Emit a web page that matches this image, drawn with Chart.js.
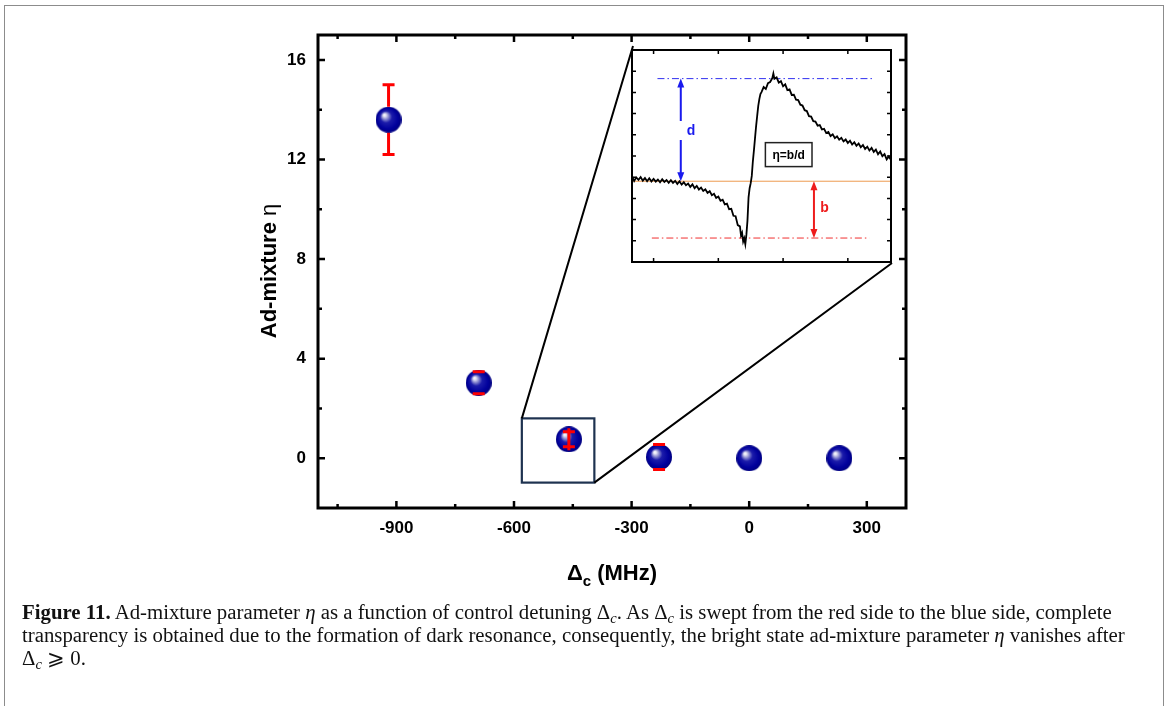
<!DOCTYPE html>
<html>
<head>
<meta charset="utf-8">
<script src="https://cdn.jsdelivr.net/npm/chart.js@4.4.0/dist/chart.umd.min.js"></script>
<style>
  html, body { margin: 0; padding: 0; background: #fff; }
  body { width: 1168px; height: 706px; position: relative; overflow: hidden; }
  #frame { position: absolute; left: 4px; top: 5px; width: 1158px; height: 720px; border: 1px solid #8c8c8c; }
  #main { position: absolute; left: 0; top: 0; }
  #insetWrap { position: absolute; left: 631px; top: 49px; width: 261px; height: 214px; background: #fff; }
  #caption { position: absolute; left: 22px; top: 600px; font-family: "Liberation Serif", serif; font-size: 20.8px; line-height: 23px; color: #111; white-space: nowrap; }
  #caption sub { font-size: 0.7em; line-height: 0; vertical-align: -0.25em; }
</style>
</head>
<body>
<div id="frame"></div>
<canvas id="main" width="1168" height="706"></canvas>
<div id="insetWrap"><canvas id="inset" width="261" height="214"></canvas></div>
<div id="caption">
  <div><b>Figure 11.</b> Ad-mixture parameter <i>η</i> as a function of control detuning Δ<sub><i>c</i></sub>. As Δ<sub><i>c</i></sub> is swept from the red side to the blue side, complete</div>
  <div>transparency is obtained due to the formation of dark resonance, consequently, the bright state ad-mixture parameter <i>η</i> vanishes after</div>
  <div>Δ<sub><i>c</i></sub> ⩾ 0.</div>
</div>

<script>
// ===== DATA =====
// main plot: control detuning (MHz) vs ad-mixture parameter eta
const detuning = [-920, -690, -460, -230, 0, 230];
const eta = [13.6, 3.03, 0.76, 0.05, 0.0, 0.0];
const etaErr = [1.4, 0.44, 0.3, 0.5, 0, 0];

const xMajorTicks = [-900, -600, -300, 0, 300];
const xMinorTicks = [-1050, -750, -450, -150, 150];
const yMajorTicks = [0, 4, 8, 12, 16];
const yMinorTicks = [2, 6, 10, 14];

// zoomed region marked on the main plot
const zoomBoxX = [-580, -395];
const zoomBoxY = [-0.98, 1.6];

// inset: transmission trace (arbitrary units)
const insetX = [-10,-9,-8,-7,-6,-5,-4,-3,-2,-1,0,1,2,3,4,5,6,7,8,9,10,11,12,13,14,15,16,17,18,19,20,21,22,23,24,25,26,27,28,29,30,31,32,33,34,35,36,37,38,39,40,
  40.5,41,41.5,42,42.5,43,43.5,44,44.5,45,45.5,46,46.5,47,47.5,48,48.5,49,49.5,50,51,52,53,54,55,55.5,
  56,57,58,59,60,61,62,63,64,65,66,67,68,69,70,71,72,73,74,75,76,77,78,79,80,81,82,83,84,85,86,87,88,89,90,91,92,93,94,95,96,97,98,99,100,101,102,103,104,105,106,107,108,109,110];
const insetY = [40.5,38.2,39.9,38.8,40.1,38.4,39.6,38.1,39.5,38.0,39.2,37.9,38.9,37.6,39.0,37.8,38.7,37.4,38.6,37.3,
  38.3,36.8,38.1,36.5,37.6,36.2,37.0,35.4,36.6,34.8,35.9,34.2,35.1,33.5,34.3,32.6,33.4,31.5,32.2,30.2,
  30.9,28.9,29.4,27.2,27.5,24.9,25.1,21.8,21.6,17.4,16.8,
  12.6,13.8,9.6,11.2,8.4,12.9,19.5,30.5,34.8,37.2,40.6,47.5,52.8,58.4,64.1,68.9,73.6,76.8,79.2,80.1,
  82.5,81.6,84.4,84.9,86.7,88.9,
  86.4,87.1,84.6,85.3,82.9,83.8,81.1,81.4,78.8,78.9,76.6,76.4,74.2,73.8,71.6,71.2,68.8,68.6,66.4,66.2,
  64.3,64.6,62.5,62.8,60.8,61.3,59.4,60.2,58.4,59.3,57.7,58.6,56.9,57.8,56.1,57.2,55.4,56.5,54.8,55.9,
  54.1,55.2,53.3,54.4,52.6,53.8,51.9,53.0,50.8,52.1,49.9,50.9,48.4,49.8,48.1];
const insetXTicks = [0, 30, 60, 90];
const insetYTicks = [10, 20, 30, 40, 50, 60, 70, 80, 90];

// inset reference levels
const peakLevel = 86.5;     // blue dash-dot
const offLevel = 38.1;      // orange baseline
const dipLevel = 11.3;      // red dash-dot
const peakLineX = [1.8, 102.3];
const dipLineX = [-0.8, 100];
const dArrowX = 12.6;
const bArrowX = 74.3;
const etaBoxX = [51.8, 73.4];
const etaBoxY = [45, 56.3];

// ===== LAYOUT =====
const INSET = { left: 631, top: 49, width: 261, height: 214 };
const SPHERE = 26;
const AXIS_FONT = '"Liberation Sans", Arial, sans-serif';

function makeSphere(d) {
  const c = document.createElement('canvas');
  c.width = d; c.height = d;
  const g = c.getContext('2d');
  const r = d / 2;
  const grad = g.createRadialGradient(r - 4.5, r - 5, 0, r, r, r);
  grad.addColorStop(0, '#ffffff');
  grad.addColorStop(0.1, '#e8e8f6');
  grad.addColorStop(0.26, '#8a8ad0');
  grad.addColorStop(0.45, '#1c1caa');
  grad.addColorStop(0.8, '#00009c');
  grad.addColorStop(1, '#000080');
  g.fillStyle = grad;
  g.beginPath();
  g.arc(r, r, r, 0, Math.PI * 2);
  g.fill();
  return c;
}

// inward ticks on all four sides plus the frame
function drawFrame(ctx, a, x, y, spec) {
  ctx.save();
  ctx.strokeStyle = '#000';
  ctx.lineWidth = spec.tickWidth;
  ctx.beginPath();
  const xt = (vals, len) => vals.forEach(v => {
    const p = x.getPixelForValue(v);
    ctx.moveTo(p, a.bottom); ctx.lineTo(p, a.bottom - len);
    ctx.moveTo(p, a.top); ctx.lineTo(p, a.top + len);
  });
  const yt = (vals, len) => vals.forEach(v => {
    const p = y.getPixelForValue(v);
    ctx.moveTo(a.left, p); ctx.lineTo(a.left + len, p);
    ctx.moveTo(a.right, p); ctx.lineTo(a.right - len, p);
  });
  xt(spec.xMajor, spec.major); xt(spec.xMinor, spec.minor);
  yt(spec.yMajor, spec.major); yt(spec.yMinor, spec.minor);
  ctx.stroke();
  ctx.lineWidth = spec.frameWidth;
  ctx.strokeRect(a.left, a.top, a.right - a.left, a.bottom - a.top);
  ctx.restore();
}

const mainFramePlugin = {
  id: 'mainFrame',
  afterDraw(chart) {
    const { ctx, chartArea: a, scales: { x, y } } = chart;
    drawFrame(ctx, a, x, y, {
      xMajor: xMajorTicks, xMinor: xMinorTicks, yMajor: yMajorTicks, yMinor: yMinorTicks,
      major: 7, minor: 4, tickWidth: 2.5, frameWidth: 3
    });

    // axis titles
    ctx.save();
    ctx.fillStyle = '#000';
    ctx.textBaseline = 'alphabetic';
    // x title: Δc (MHz)
    const big = 'bold 22px ' + AXIS_FONT;
    const small = 'bold 15px ' + AXIS_FONT;
    ctx.font = big; const wD = ctx.measureText('Δ').width;
    ctx.font = small; const wc = ctx.measureText('c').width;
    ctx.font = big; const wRest = ctx.measureText(' (MHz)').width;
    const tx = 612 - (wD + wc + wRest) / 2;
    const base = 580;
    ctx.textAlign = 'left';
    ctx.font = big; ctx.fillText('Δ', tx, base);
    ctx.font = small; ctx.fillText('c', tx + wD, base + 6);
    ctx.font = big; ctx.fillText(' (MHz)', tx + wD + wc, base);

    // y title: Ad-mixture η
    ctx.translate(276, 271);
    ctx.rotate(-Math.PI / 2);
    ctx.font = big; const wA = ctx.measureText('Ad-mixture ').width;
    ctx.font = '22px ' + AXIS_FONT; const wEta = ctx.measureText('η').width;
    const sx = -(wA + wEta) / 2;
    ctx.font = big; ctx.fillText('Ad-mixture ', sx, 0);
    ctx.font = '22px ' + AXIS_FONT; ctx.fillText('η', sx + wA, 0);
    ctx.restore();

    // zoom box and connecting lines to the inset
    ctx.save();
    const bl = x.getPixelForValue(zoomBoxX[0]), br = x.getPixelForValue(zoomBoxX[1]);
    const bt = y.getPixelForValue(zoomBoxY[1]), bb = y.getPixelForValue(zoomBoxY[0]);
    ctx.strokeStyle = '#1e3250';
    ctx.lineWidth = 2.2;
    ctx.strokeRect(bl, bt, br - bl, bb - bt);
    ctx.strokeStyle = '#000';
    ctx.lineWidth = 2;
    ctx.beginPath();
    ctx.moveTo(bl, bt); ctx.lineTo(INSET.left + 2, INSET.top - 3);
    ctx.moveTo(br, bb); ctx.lineTo(INSET.left + INSET.width, INSET.top + INSET.height);
    ctx.stroke();
    ctx.restore();
  }
};

const errorBarPlugin = {
  id: 'errorBars',
  afterDatasetsDraw(chart) {
    const { ctx, scales: { x, y } } = chart;
    const rad = SPHERE / 2;
    ctx.save();
    ctx.strokeStyle = '#ff0000';
    ctx.lineWidth = 3;
    detuning.forEach((d, i) => {
      const e = etaErr[i];
      if (!e) return;
      const px = x.getPixelForValue(d);
      const py = y.getPixelForValue(eta[i]);
      const top = y.getPixelForValue(eta[i] + e);
      const bot = y.getPixelForValue(eta[i] - e);
      const half = py - top;
      ctx.beginPath();
      if (half > rad) {
        ctx.moveTo(px, top); ctx.lineTo(px, py - rad);
        ctx.moveTo(px, py + rad); ctx.lineTo(px, bot);
      } else if (half < rad * 0.7) {
        ctx.moveTo(px, py - rad + 2); ctx.lineTo(px, py + rad - 2);
      }
      ctx.moveTo(px - 6, top); ctx.lineTo(px + 6, top);
      ctx.moveTo(px - 6, bot); ctx.lineTo(px + 6, bot);
      ctx.stroke();
    });
    ctx.restore();
  }
};

new Chart(document.getElementById('main'), {
  type: 'scatter',
  data: {
    datasets: [{
      data: detuning.map((d, i) => ({ x: d, y: eta[i] })),
      pointStyle: makeSphere(SPHERE),
      pointRadius: 13,
      showLine: false
    }]
  },
  options: {
    responsive: false,
    animation: false,
    devicePixelRatio: 1,
    events: [],
    layout: { padding: { left: 0, top: 35, right: 262, bottom: 158 } },
    plugins: { legend: { display: false }, tooltip: { enabled: false } },
    scales: {
      x: {
        type: 'linear', min: -1100, max: 400,
        afterBuildTicks: s => { s.ticks = xMajorTicks.map(v => ({ value: v })); },
        afterFit: s => { s.height = 40; },
        grid: { display: false, drawTicks: false }, border: { display: false },
        ticks: { color: '#000', padding: 10, maxRotation: 0, font: { family: AXIS_FONT, size: 17, weight: 'bold' } }
      },
      y: {
        type: 'linear', min: -2, max: 17,
        afterBuildTicks: s => { s.ticks = yMajorTicks.map(v => ({ value: v })); },
        afterFit: s => { s.width = 318; },
        grid: { display: false, drawTicks: false }, border: { display: false },
        ticks: { color: '#000', padding: 12, font: { family: AXIS_FONT, size: 17, weight: 'bold' } }
      }
    }
  },
  plugins: [errorBarPlugin, mainFramePlugin]
});

// ===== INSET =====
function arrowHead(ctx, x, y, dir) {
  ctx.beginPath();
  ctx.moveTo(x, y);
  ctx.lineTo(x - 3.5, y - dir * 9);
  ctx.lineTo(x + 3.5, y - dir * 9);
  ctx.closePath();
  ctx.fill();
}

const insetPlugin = {
  id: 'insetDecor',
  beforeDatasetsDraw(chart) {
    const { ctx, chartArea: a, scales: { x, y } } = chart;
    ctx.save();
    ctx.lineWidth = 1;
    // orange baseline
    ctx.strokeStyle = '#ee9a50';
    ctx.beginPath();
    ctx.moveTo(a.left, y.getPixelForValue(offLevel));
    ctx.lineTo(a.right, y.getPixelForValue(offLevel));
    ctx.stroke();
    // dash-dot levels
    ctx.setLineDash([7, 3, 1.5, 3]);
    ctx.strokeStyle = '#3030f0';
    ctx.beginPath();
    ctx.moveTo(x.getPixelForValue(peakLineX[0]), y.getPixelForValue(peakLevel));
    ctx.lineTo(x.getPixelForValue(peakLineX[1]), y.getPixelForValue(peakLevel));
    ctx.stroke();
    ctx.strokeStyle = '#f03030';
    ctx.beginPath();
    ctx.moveTo(x.getPixelForValue(dipLineX[0]), y.getPixelForValue(dipLevel));
    ctx.lineTo(x.getPixelForValue(dipLineX[1]), y.getPixelForValue(dipLevel));
    ctx.stroke();
    ctx.restore();
  },
  afterDraw(chart) {
    const { ctx, chartArea: a, scales: { x, y } } = chart;
    drawFrame(ctx, a, x, y, {
      xMajor: insetXTicks, xMinor: [], yMajor: insetYTicks, yMinor: [],
      major: 4, minor: 0, tickWidth: 1.5, frameWidth: 2
    });

    ctx.save();
    // d arrow (blue) with a gap in the middle
    const dx = x.getPixelForValue(dArrowX);
    const dTop = y.getPixelForValue(peakLevel), dBot = y.getPixelForValue(offLevel);
    const dMid = (dTop + dBot) / 2;
    ctx.strokeStyle = ctx.fillStyle = '#1a1aee';
    ctx.lineWidth = 2;
    ctx.beginPath();
    ctx.moveTo(dx, dTop + 6); ctx.lineTo(dx, dMid - 9);
    ctx.moveTo(dx, dMid + 10); ctx.lineTo(dx, dBot - 6);
    ctx.stroke();
    arrowHead(ctx, dx, dTop, -1);
    arrowHead(ctx, dx, dBot, 1);
    ctx.font = 'bold 14px ' + AXIS_FONT;
    ctx.textAlign = 'center';
    ctx.textBaseline = 'middle';
    ctx.fillText('d', x.getPixelForValue(17.4), y.getPixelForValue(61.6));

    // b arrow (red)
    const bx = x.getPixelForValue(bArrowX);
    const bTop = y.getPixelForValue(offLevel), bBot = y.getPixelForValue(dipLevel);
    ctx.strokeStyle = ctx.fillStyle = '#ee1c1c';
    ctx.beginPath();
    ctx.moveTo(bx, bTop + 6); ctx.lineTo(bx, bBot - 6);
    ctx.stroke();
    arrowHead(ctx, bx, bTop, -1);
    arrowHead(ctx, bx, bBot, 1);
    ctx.fillText('b', x.getPixelForValue(79.2), y.getPixelForValue(25.2));

    // eta = b/d box
    const l = x.getPixelForValue(etaBoxX[0]), r = x.getPixelForValue(etaBoxX[1]);
    const t = y.getPixelForValue(etaBoxY[1]), b = y.getPixelForValue(etaBoxY[0]);
    ctx.fillStyle = '#fff';
    ctx.fillRect(l, t, r - l, b - t);
    ctx.strokeStyle = '#222';
    ctx.lineWidth = 1.5;
    ctx.strokeRect(l, t, r - l, b - t);
    ctx.fillStyle = '#000';
    ctx.font = 'bold 12px ' + AXIS_FONT;
    ctx.fillText('η=b/d', (l + r) / 2, (t + b) / 2 + 1);
    ctx.restore();
  }
};

new Chart(document.getElementById('inset'), {
  type: 'scatter',
  data: {
    datasets: [{
      data: insetX.map((v, i) => ({ x: v, y: insetY[i] })),
      showLine: true,
      borderColor: '#000',
      borderWidth: 1.8,
      pointRadius: 0,
      tension: 0
    }]
  },
  options: {
    responsive: false,
    animation: false,
    devicePixelRatio: 1,
    events: [],
    layout: { padding: 1 },
    plugins: { legend: { display: false }, tooltip: { enabled: false } },
    scales: {
      x: { type: 'linear', min: -10, max: 110, display: false },
      y: { type: 'linear', min: 0, max: 100, display: false }
    }
  },
  plugins: [insetPlugin]
});
</script>
</body>
</html>
